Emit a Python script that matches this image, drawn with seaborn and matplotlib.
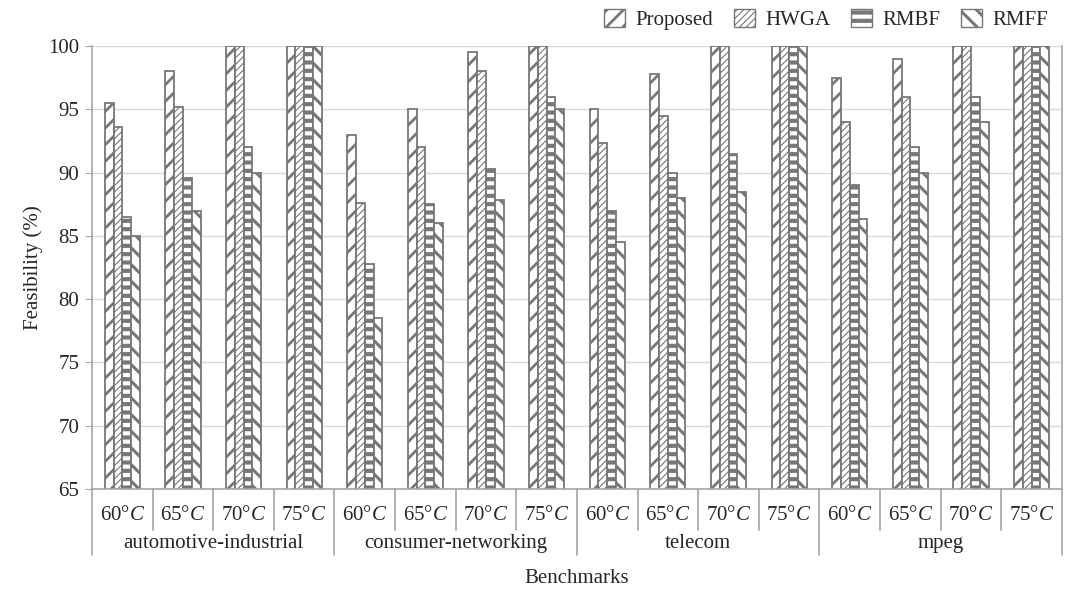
import numpy as np
import pandas as pd
import matplotlib
matplotlib.use('Agg')
import matplotlib.pyplot as plt
import matplotlib.patches as mpatches
import matplotlib.transforms as mtransforms
import seaborn as sns

benchmarks = ['automotive-industrial', 'consumer-networking', 'telecom', 'mpeg']
temps = ['60', '65', '70', '75']
methods = ['Proposed', 'HWGA', 'RMBF', 'RMFF']

# feasibility (%) per benchmark, each block of 4 is 60/65/70/75 C
proposed = [95.5, 98.0, 100, 100,   93.0, 95.0, 99.5, 100,   95.0, 97.8, 100, 100,   97.5, 99.0, 100, 100]
hwga     = [93.6, 95.2, 100, 100,   87.6, 92.0, 98.0, 100,   92.3, 94.5, 100, 100,   94.0, 96.0, 100, 100]
rmbf     = [86.5, 89.6, 92.0, 100,  82.8, 87.5, 90.3, 96.0,  87.0, 90.0, 91.5, 100,  89.0, 92.0, 96.0, 100]
rmff     = [85.0, 87.0, 90.0, 100,  78.5, 86.0, 87.8, 95.0,  84.5, 88.0, 88.5, 100,  86.3, 90.0, 94.0, 100]

hatches = ['//', '/////', '--', '\\\\']
hatch_lw = [2.0, 0.8, 3.0, 2.2]
edge = '#777777'
fs = 15

sns.set_style('white')
plt.rcParams['font.family'] = ['Liberation Serif', 'DejaVu Serif']
plt.rcParams['mathtext.fontset'] = 'custom'
plt.rcParams['mathtext.rm'] = 'Liberation Serif'
plt.rcParams['mathtext.it'] = 'Liberation Serif:italic'
plt.rcParams['hatch.color'] = edge
plt.rcParams['hatch.linewidth'] = 2.0

cats = [b + '|' + t for b in benchmarks for t in temps]
rows = []
for m, vals in zip(methods, [proposed, hwga, rmbf, rmff]):
    for c, v in zip(cats, vals):
        rows.append({'cat': c, 'method': m, 'value': v})
df = pd.DataFrame(rows)

fig = plt.figure(figsize=(10.66, 5.91), dpi=100)
ax = fig.add_axes([0.0863, 0.1726, 0.9099, 0.7496])

sns.barplot(data=df, x='cat', y='value', hue='method', order=cats, hue_order=methods,
            width=0.58, palette=['white'] * 4, edgecolor=edge, linewidth=1.3,
            legend=False, ax=ax)


def style_patch(p, h, lw):
    p.set_hatch(h)
    p.set_facecolor('white')
    p.set_edgecolor(edge)
    try:
        p.set_hatch_linewidth(lw)
    except AttributeError:
        pass


for cont, h, lw in zip(ax.containers, hatches, hatch_lw):
    for bar in cont:
        style_patch(bar, h, lw)

ax.set_ylim(65, 100)
ax.set_yticks(range(65, 101, 5))
ax.set_xlim(-0.5, 15.5)
ax.yaxis.grid(True, color='#d9d9d9', linewidth=1)
ax.set_axisbelow(True)
for s in ['left', 'right', 'bottom']:
    ax.spines[s].set_color('#a6a6a6')
    ax.spines[s].set_linewidth(1.2)
ax.spines['top'].set_visible(False)
ax.tick_params(axis='y', length=5, color='#a6a6a6', labelsize=fs, pad=4, left=True)
ax.tick_params(axis='x', length=0, labelsize=fs, pad=12)
ax.set_xticks(range(16))
ax.set_xticklabels([t + '°$C$' for b in benchmarks for t in temps])
ax.set_xlabel('Benchmarks', fontsize=fs, labelpad=32)
ax.set_ylabel('Feasibility (%)', fontsize=fs, labelpad=4)

trans = mtransforms.blended_transform_factory(ax.transData, ax.transAxes)
for i in range(16):
    if i % 4 != 0:
        ax.plot([i - 0.5, i - 0.5], [0, -0.093], transform=trans, color='#a6a6a6',
                linewidth=1.2, clip_on=False)
for g in range(5):
    x = 4 * g - 0.5
    ax.plot([x, x], [0, -0.15], transform=trans, color='#a6a6a6', linewidth=1.2, clip_on=False)
for g, b in enumerate(benchmarks):
    ax.text(4 * g + 1.5, -0.123, b, transform=trans, ha='center', va='center', fontsize=fs)

handles = [mpatches.Patch(label=m) for m in methods]
for p, h, lw in zip(handles, hatches, hatch_lw):
    style_patch(p, h, lw)
leg = fig.legend(handles=handles, loc='upper right', bbox_to_anchor=(0.997, 1.01), ncol=4,
                 frameon=False, fontsize=fs, handlelength=1.0, handleheight=1.0,
                 columnspacing=1.0, handletextpad=0.5, borderaxespad=0.3)
for p, h, lw in zip(leg.get_patches(), hatches, hatch_lw):
    style_patch(p, h, lw)

fig.savefig('out.png', dpi=100)
